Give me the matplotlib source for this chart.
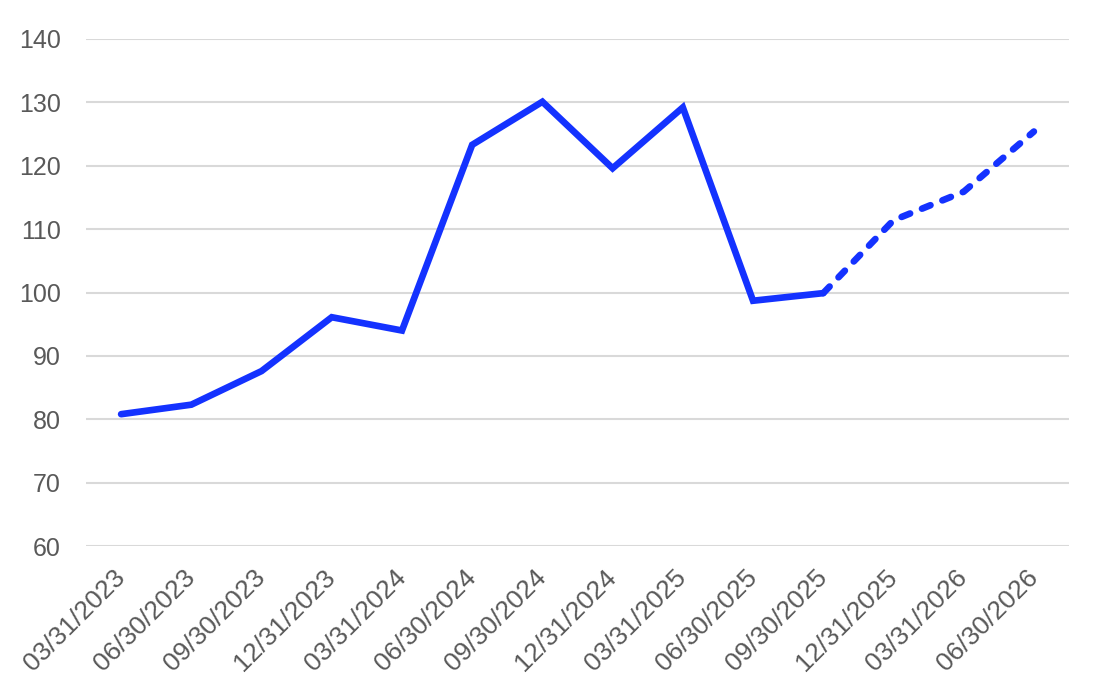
import matplotlib
matplotlib.use("Agg")
import matplotlib.pyplot as plt

dates = ["03/31/2023", "06/30/2023", "09/30/2023", "12/31/2023", "03/31/2024",
         "06/30/2024", "09/30/2024", "12/31/2024", "03/31/2025", "06/30/2025",
         "09/30/2025", "12/31/2025", "03/31/2026", "06/30/2026"]
actual = [80.8, 82.3, 87.6, 96.1, 94.0, 123.3, 130.1, 119.6, 129.2, 98.7, 99.9]
forecast = [99.9, 111.4, 115.9, 125.4]
forecast_start = 10
yticks = [60, 70, 80, 90, 100, 110, 120, 130, 140]

plt.rcParams['font.family'] = ['Liberation Sans', 'DejaVu Sans']

fig = plt.figure(figsize=(11.12, 6.96), dpi=100)
ax = fig.add_axes([86/1112, 1-546/696, (1069-86)/1112, (546-39)/696])

color = "#1432FF"
lw = 4.8
x_act = list(range(len(actual)))
x_fc = list(range(forecast_start, forecast_start + len(forecast)))
ax.plot(x_act, actual, color=color, lw=lw, solid_capstyle='round', solid_joinstyle='miter', zorder=3)
ax.plot(x_fc, forecast, color=color, lw=lw, dashes=(1.5 * 4.4 / lw, 2.1 * 4.4 / lw),
        dash_capstyle='round', zorder=3)

ax.set_xlim(-0.5, len(dates) - 0.5)
ax.set_ylim(60, 140)
ax.set_yticks(yticks)
ax.set_xticks(range(len(dates)))
ax.set_xticklabels(dates, rotation=45, ha='right', va='center', rotation_mode='anchor',
                   fontsize=19)
ax.grid(axis='y', color='#d9d9d9', lw=1.5)
ax.set_axisbelow(True)
for s in ax.spines.values():
    s.set_visible(False)
ax.tick_params(axis='both', length=0, labelcolor='#595959')
ax.tick_params(axis='y', pad=18, labelsize=18)
ax.tick_params(axis='x', pad=20)

fig.savefig("out.png", dpi=100)
